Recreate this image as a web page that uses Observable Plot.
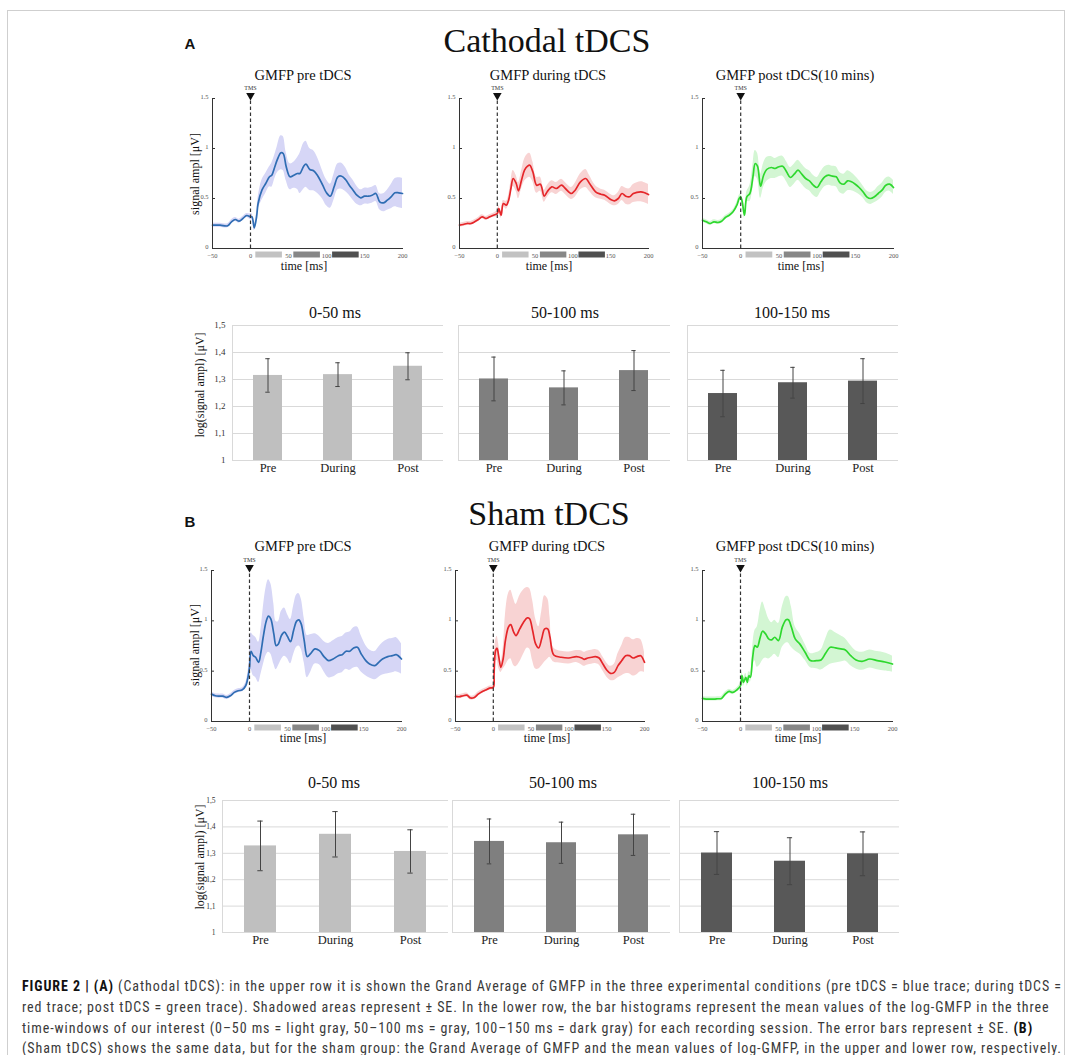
<!DOCTYPE html>
<html><head><meta charset="utf-8">
<script src="https://cdn.jsdelivr.net/npm/d3@7"></script>
<script src="https://cdn.jsdelivr.net/npm/@observablehq/plot@0.6"></script>
<style>
html,body{margin:0;padding:0;background:#fff;}
#page{position:relative;width:1070px;height:1055px;overflow:hidden;font-family:"Liberation Serif","Times New Roman",serif;color:#111;}
.t{position:absolute;white-space:nowrap;line-height:1;transform:translate(-50%,-50%);}
.cap{position:absolute;left:22px;white-space:nowrap;line-height:1;font-family:"Liberation Sans Narrow","Roboto Condensed","DejaVu Sans Condensed","Arial Narrow",sans-serif;font-stretch:condensed;color:#3a3a3a;}
.cap b{color:#111;}
</style></head><body><div id="page"></div>
<script>
// ---------- DATA: [time ms, mean GMFP µV, SE] ----------
const traceA1 = [[-50,0.233,0.02],[-40,0.233,0.02],[-30,0.227,0.02],[-25,0.267,0.02],[-20,0.29,0.02],[-15,0.273,0.02],[-10,0.3,0.02],[-5,0.33,0.02],[0,0.317,0.03],[2,0.317,0.03],[5,0.207,0.03],[8,0.317,0.04],[10,0.45,0.06],[15,0.583,0.1],[20,0.65,0.1],[25,0.717,0.1],[28,0.733,0.12],[32,0.817,0.12],[35,0.883,0.13],[40,0.957,0.17],[43,0.95,0.17],[47,0.817,0.14],[52,0.717,0.13],[57,0.733,0.13],[62,0.75,0.16],[65,0.75,0.2],[70,0.823,0.23],[73,0.843,0.23],[78,0.79,0.21],[83,0.777,0.2],[88,0.733,0.18],[95,0.633,0.14],[100,0.557,0.13],[105,0.523,0.12],[110,0.617,0.13],[115,0.717,0.13],[120,0.723,0.13],[125,0.69,0.12],[130,0.633,0.1],[135,0.583,0.1],[140,0.533,0.09],[145,0.507,0.08],[150,0.523,0.08],[155,0.523,0.08],[160,0.533,0.08],[165,0.55,0.08],[170,0.467,0.08],[175,0.457,0.09],[180,0.483,0.1],[185,0.517,0.12],[190,0.557,0.14],[195,0.557,0.15],[200,0.55,0.15]];
const traceA2 = [[-50,0.233,0.02],[-45,0.24,0.02],[-40,0.25,0.02],[-35,0.25,0.02],[-30,0.267,0.02],[-25,0.29,0.02],[-20,0.317,0.02],[-15,0.3,0.02],[-10,0.317,0.02],[-5,0.333,0.02],[0,0.35,0.03],[2,0.4,0.03],[5,0.333,0.03],[8,0.45,0.03],[12,0.433,0.04],[15,0.483,0.05],[18,0.6,0.07],[21,0.7,0.08],[25,0.65,0.08],[28,0.577,0.08],[32,0.683,0.09],[36,0.783,0.11],[40,0.823,0.12],[43,0.833,0.12],[47,0.767,0.1],[52,0.633,0.08],[57,0.643,0.07],[62,0.523,0.06],[66,0.567,0.06],[72,0.617,0.06],[78,0.6,0.06],[85,0.633,0.06],[90,0.6,0.06],[98,0.55,0.06],[103,0.583,0.07],[110,0.667,0.08],[117,0.7,0.09],[122,0.65,0.08],[130,0.567,0.06],[137,0.543,0.05],[142,0.533,0.05],[150,0.49,0.05],[155,0.477,0.05],[160,0.5,0.06],[165,0.55,0.07],[170,0.523,0.08],[175,0.517,0.08],[180,0.55,0.09],[190,0.567,0.1],[195,0.557,0.1],[200,0.54,0.1]];
const traceA3 = [[-50,0.283,0.02],[-45,0.267,0.02],[-40,0.25,0.02],[-35,0.267,0.02],[-30,0.26,0.02],[-25,0.273,0.02],[-20,0.31,0.02],[-15,0.333,0.02],[-10,0.367,0.02],[-5,0.433,0.03],[-2,0.5,0.03],[0,0.517,0.03],[2,0.467,0.03],[5,0.333,0.03],[8,0.517,0.05],[12,0.55,0.08],[16,0.717,0.12],[19,0.85,0.13],[22,0.823,0.13],[26,0.623,0.12],[30,0.733,0.12],[34,0.79,0.12],[40,0.81,0.11],[45,0.8,0.1],[50,0.817,0.1],[55,0.823,0.1],[60,0.767,0.1],[65,0.71,0.1],[70,0.743,0.1],[75,0.783,0.1],[80,0.743,0.1],[85,0.7,0.1],[90,0.677,0.1],[95,0.633,0.1],[100,0.61,0.1],[105,0.667,0.1],[110,0.717,0.1],[115,0.733,0.1],[120,0.723,0.1],[125,0.717,0.1],[130,0.657,0.1],[135,0.643,0.1],[140,0.677,0.1],[145,0.667,0.09],[150,0.643,0.08],[155,0.61,0.07],[160,0.567,0.06],[165,0.517,0.06],[170,0.5,0.06],[175,0.517,0.06],[180,0.55,0.07],[185,0.583,0.07],[190,0.633,0.07],[195,0.643,0.07],[200,0.61,0.07]];
const traceB1 = [[-50,0.272,0.02],[-45,0.256,0.02],[-40,0.252,0.02],[-35,0.252,0.02],[-30,0.239,0.02],[-25,0.256,0.02],[-20,0.289,0.02],[-15,0.306,0.02],[-10,0.312,0.02],[-5,0.355,0.03],[-2,0.439,0.05],[0,0.538,0.1],[2,0.698,0.18],[5,0.654,0.2],[8,0.638,0.2],[12,0.588,0.2],[15,0.688,0.22],[18,0.837,0.28],[22,0.997,0.34],[25,1.047,0.36],[28,1.02,0.35],[32,0.87,0.3],[35,0.754,0.24],[38,0.771,0.22],[42,0.854,0.24],[46,0.887,0.24],[50,0.844,0.22],[54,0.794,0.22],[58,0.904,0.24],[62,0.997,0.26],[65,1.01,0.26],[68,0.97,0.25],[72,0.804,0.22],[76,0.645,0.21],[80,0.671,0.19],[86,0.721,0.15],[92,0.704,0.14],[98,0.645,0.15],[104,0.605,0.17],[110,0.621,0.18],[117,0.654,0.18],[122,0.664,0.18],[127,0.698,0.18],[132,0.698,0.19],[137,0.731,0.2],[142,0.738,0.2],[147,0.671,0.18],[153,0.605,0.15],[158,0.571,0.14],[165,0.555,0.14],[170,0.588,0.15],[175,0.621,0.16],[182,0.645,0.17],[188,0.654,0.17],[193,0.664,0.17],[200,0.621,0.15]];
const traceB2 = [[-50,0.249,0.02],[-45,0.246,0.02],[-40,0.256,0.02],[-35,0.262,0.02],[-30,0.233,0.02],[-25,0.239,0.02],[-20,0.272,0.02],[-15,0.296,0.02],[-10,0.312,0.02],[-5,0.332,0.02],[0,0.339,0.02],[1,0.472,0.06],[3,0.704,0.1],[5,0.728,0.12],[7,0.654,0.12],[10,0.538,0.05],[13,0.621,0.1],[16,0.804,0.25],[20,0.937,0.33],[23,0.963,0.34],[27,0.887,0.33],[30,0.854,0.31],[35,0.92,0.33],[40,0.987,0.32],[45,1.03,0.3],[48,1.02,0.3],[52,0.904,0.3],[56,0.771,0.25],[60,0.731,0.21],[64,0.821,0.27],[68,0.92,0.33],[72,0.92,0.3],[75,0.837,0.2],[80,0.661,0.07],[90,0.638,0.06],[100,0.631,0.06],[110,0.645,0.06],[117,0.631,0.07],[120,0.618,0.07],[125,0.631,0.07],[130,0.638,0.07],[135,0.645,0.07],[140,0.631,0.07],[145,0.571,0.07],[150,0.512,0.07],[155,0.478,0.07],[160,0.488,0.08],[165,0.555,0.12],[170,0.605,0.15],[175,0.654,0.18],[180,0.654,0.18],[185,0.631,0.18],[190,0.645,0.18],[195,0.654,0.16],[200,0.588,0.1]];
const traceB3 = [[-50,0.229,0.02],[-45,0.223,0.02],[-40,0.223,0.02],[-35,0.223,0.02],[-30,0.226,0.02],[-25,0.229,0.02],[-20,0.272,0.02],[-15,0.299,0.02],[-10,0.289,0.02],[-5,0.312,0.02],[0,0.355,0.03],[2,0.455,0.04],[4,0.389,0.04],[7,0.439,0.04],[9,0.389,0.04],[11,0.455,0.04],[13,0.439,0.05],[16,0.638,0.1],[19,0.754,0.15],[22,0.738,0.2],[26,0.837,0.27],[29,0.897,0.29],[33,0.87,0.24],[37,0.821,0.2],[41,0.811,0.17],[45,0.837,0.17],[50,0.804,0.17],[55,0.937,0.2],[60,1.01,0.23],[63,1.01,0.23],[67,0.937,0.2],[72,0.821,0.12],[78,0.771,0.1],[85,0.688,0.08],[92,0.605,0.07],[100,0.605,0.08],[106,0.611,0.1],[112,0.678,0.14],[118,0.738,0.17],[125,0.731,0.15],[132,0.721,0.13],[138,0.711,0.11],[145,0.654,0.1],[152,0.611,0.09],[160,0.598,0.09],[170,0.621,0.09],[180,0.605,0.09],[190,0.591,0.09],[200,0.571,0.08]];

const lineTitles = ["GMFP pre tDCS","GMFP during tDCS","GMFP post tDCS(10 mins)"];
const xTicks = [-50,0,50,100,150,200];
const yTicks = [0,0.5,1,1.5];
const windowLabels = ["0-50 ms","50-100 ms","100-150 ms"];
const windowStart = [7,57,108];
const windowEnd = [42,92,143];
const windowColors = ["#c2c2c2","#878787","#505050"];

const sessions = ["Pre","During","Post"];
const barTicks = [1,1.1,1.2,1.3,1.4,1.5];
const meanA = [[1.315,1.318,1.349],[1.302,1.269,1.333],[1.248,1.288,1.294]];
const seA   = [[0.062,0.044,0.05],[0.081,0.063,0.074],[0.086,0.057,0.083]];
const meanB = [[1.328,1.372,1.307],[1.345,1.34,1.37],[1.301,1.27,1.298]];
const seB   = [[0.094,0.086,0.082],[0.085,0.078,0.078],[0.081,0.089,0.083]];
const barColors = ["#bfbfbf","#7f7f7f","#585858"];
const traceColors = ["#2f6db3","#e5262a","#2ed82e"];
const bandColors = ["#d6d6f6","#f8d3d3","#d3f6d3"];

const captionLines = [
 "<b>FIGURE 2 | (A)</b> (Cathodal tDCS): in the upper row it is shown the Grand Average of GMFP in the three experimental conditions (pre tDCS = blue trace; during tDCS =",
 "red trace; post tDCS = green trace). Shadowed areas represent ± SE. In the lower row, the bar histograms represent the mean values of the log-GMFP in the three",
 "time-windows of our interest (0–50 ms = light gray, 50–100 ms = gray, 100–150 ms = dark gray) for each recording session. The error bars represent ± SE. <b>(B)</b>",
 "(Sham tDCS) shows the same data, but for the sham group: the Grand Average of GMFP and the mean values of log-GMFP, in the upper and lower row, respectively."
];

// ---------- LAYOUT ----------
const page = document.getElementById("page");
function txt(html, cx, cy, size, o = {}) {
  const d = document.createElement("div");
  d.className = "t"; d.innerHTML = html;
  d.style.left = cx + "px"; d.style.top = cy + "px"; d.style.fontSize = size + "px";
  if (o.rot) d.style.transform = "translate(-50%,-50%) rotate(-90deg)";
  if (o.font) d.style.fontFamily = o.font;
  if (o.weight) d.style.fontWeight = o.weight;
  if (o.color) d.style.color = o.color;
  page.appendChild(d);
}
function put(svg, left, top) {
  svg.style.position = "absolute"; svg.style.left = left + "px"; svg.style.top = top + "px";
  page.appendChild(svg);
}

// frame
const fr = document.createElement("div");
Object.assign(fr.style, {position:"absolute", left:"7px", top:"10px", width:"1056px", height:"1100px", border:"1.5px solid #cfcfcf"});
page.appendChild(fr);

function lineChart(trace, k, box) {
  const ml = 22, mr = 10, mt = 16, mb = 14;
  const W = box.x1 - box.x0, H = box.yb - box.yt;
  const data = trace.map(([t, m, se]) => ({t, m, lo: m - se, hi: m + se}));
  const wins = windowStart.map((s, i) => ({s, e: windowEnd[i], c: windowColors[i]}));
  const svg = Plot.plot({
    width: W + ml + mr, height: H + mt + mb,
    marginLeft: ml, marginRight: mr, marginTop: mt, marginBottom: mb,
    style: {fontFamily: "Liberation Serif", fontSize: "7px", color: "#555", background: "transparent", overflow: "visible"},
    x: {domain: [-50, 200], axis: null},
    y: {domain: [0, 1.5], axis: null},
    color: {type: "identity"},
    marks: [
      Plot.areaY(data, {x: "t", y1: "lo", y2: "hi", fill: bandColors[k], curve: "catmull-rom"}),
      Plot.line(data, {x: "t", y: "m", stroke: traceColors[k], strokeWidth: 1.7, curve: "catmull-rom"}),
      Plot.ruleY(wins, {y: () => 0, x1: "s", x2: "e", stroke: "c", strokeWidth: 6, dy: 6}),
      Plot.axisX({ticks: xTicks, tickSize: 0, tickPadding: 4.5, fontSize: 6.5, fill: "#555", label: null}),
      Plot.axisY({ticks: yTicks, tickSize: 0, tickPadding: 4, dy: -1.5, fontSize: 6.5, fill: "#555", label: null, tickFormat: d => String(d)}),
      Plot.tickY(yTicks, {y: d => d, insetRight: W - 3, stroke: "#333"}),
      Plot.ruleX([0], {y1: () => 0, y2: () => 1.5, stroke: "#333", strokeWidth: 1.2, strokeDasharray: "3.5,2.5"}),
      Plot.dot([0], {x: d => d, y: () => 1.5, symbol: "triangle", rotate: 180, r: 3.2, fill: "#111", stroke: "none", dy: -3}),
      Plot.text(["TMS"], {x: () => 0, y: () => 1.5, text: d => d, dy: -10, fontSize: 6, fill: "#333"}),
      Plot.frame({anchor: "left", stroke: "#333"}),
      Plot.frame({anchor: "bottom", stroke: "#333"})
    ]
  });
  put(svg, box.x0 - ml, box.yt - mt);
}

function barChart(means, ses, k, box, showTicks, tickFont) {
  const ml = 30, mr = 4, mt = 6, mb = 20;
  const W = box.x1 - box.x0, H = box.yb - box.yt;
  const data = sessions.map((s, i) => ({s, m: means[i], lo: means[i] - ses[i], hi: means[i] + ses[i]}));
  const fmt = d => d === 1 ? "1" : d.toFixed(1).replace(".", ",");
  const capInset = (W / 3) * 0.42 / 2 - 2.5;
  const marks = [
    Plot.ruleY(barTicks, {y: d => d, stroke: "#d9d9d9"}),
    Plot.frame({anchor: "left", stroke: "#d9d9d9"}),
    Plot.barY(data, {x: "s", y1: () => barTicks[0], y2: "m", fill: barColors[k]}),
    Plot.ruleX(data, {x: "s", y1: "lo", y2: "hi", stroke: "#444", strokeWidth: 1}),
    Plot.tickY(data, {x: "s", y: "hi", stroke: "#444", insetLeft: capInset, insetRight: capInset}),
    Plot.tickY(data, {x: "s", y: "lo", stroke: "#444", insetLeft: capInset, insetRight: capInset}),
    Plot.axisX({tickSize: 0, tickPadding: 3, fontSize: 12.5, fill: "#222", label: null})
  ];
  if (showTicks) marks.push(Plot.axisY({ticks: barTicks, tickFormat: fmt, tickSize: 0, tickPadding: 7, fontSize: tickFont, fill: "#333", label: null}));
  const svg = Plot.plot({
    width: W + ml + mr, height: H + mt + mb,
    marginLeft: ml, marginRight: mr, marginTop: mt, marginBottom: mb,
    style: {fontFamily: "Liberation Serif", background: "transparent", overflow: "visible"},
    x: {domain: sessions, paddingInner: 0.58, paddingOuter: 0.29, axis: null},
    y: {domain: [1, 1.5], axis: null},
    marks
  });
  put(svg, box.x0 - ml, box.yt - mt);
}

// Panel A
txt("A", 190, 43, 15, {font: "Liberation Sans, Arial, sans-serif", weight: "bold"});
txt("Cathodal tDCS", 547, 41, 34);
const lineA = [{x0:212,x1:402},{x0:459,x1:648},{x0:702,x1:893}];
const lineB = [{x0:211,x1:401},{x0:455,x1:644},{x0:702,x1:892}];
const tracesA = [traceA1, traceA2, traceA3];
const tracesB = [traceB1, traceB2, traceB3];
const subA = [303, 548, 795], timeA = [304, 549, 801];
const subB = [303, 547, 795], timeB = [303, 547, 798];
lineA.forEach((b, i) => {
  lineChart(tracesA[i], i, {...b, yt: 98, yb: 248});
  txt(lineTitles[i], subA[i], 75, 14.5);
  txt("time [ms]", timeA[i], 266, 12);
});
txt("signal ampl [μV]", 195, 174, 12, {rot: true});

const barA = [{x0:232,x1:443},{x0:458,x1:670},{x0:687,x1:898}];
const barB = [{x0:222,x1:448},{x0:452,x1:670},{x0:679,x1:899}];
const barSubA = [335, 565, 792], barSubB = [334, 563, 790];
barA.forEach((b, i) => {
  barChart(meanA[i], seA[i], i, {...b, yt: 325, yb: 460}, i === 0, 9);
  txt(windowLabels[i], barSubA[i], 313, 16);
});
txt("log(signal ampl) [μV]", 200, 385, 12, {rot: true});

// Panel B
txt("B", 190, 521, 15, {font: "Liberation Sans, Arial, sans-serif", weight: "bold"});
txt("Sham tDCS", 549, 514, 34);
lineB.forEach((b, i) => {
  lineChart(tracesB[i], i, {...b, yt: 570, yb: 721});
  txt(lineTitles[i], subB[i], 546, 14.5);
  txt("time [ms]", timeB[i], 738, 12);
});
txt("signal ampl [μV]", 195, 645, 12, {rot: true});
barB.forEach((b, i) => {
  barChart(meanB[i], seB[i], i, {...b, yt: 800, yb: 932}, i === 0, 7.5);
  txt(windowLabels[i], barSubB[i], 783, 16);
});
txt("log(signal ampl) [μV]", 200, 857, 12, {rot: true});

// Caption: font size 14px, letter-spacing fitted so line 1 spans the frame width
const capTops = [979, 1000, 1021, 1041];
const capEls = captionLines.map((h, i) => {
  const d = document.createElement("div");
  d.className = "cap"; d.innerHTML = h; d.style.top = capTops[i] + "px"; d.style.fontSize = "14px";
  page.appendChild(d); return d;
});
const w0 = capEls[0].getBoundingClientRect().width;
const nChars = capEls[0].textContent.length;
const ls = Math.max(-0.5, Math.min(1, (1040 - w0) / nChars));
capEls.forEach(d => d.style.letterSpacing = ls.toFixed(3) + "px");
</script></body></html>
